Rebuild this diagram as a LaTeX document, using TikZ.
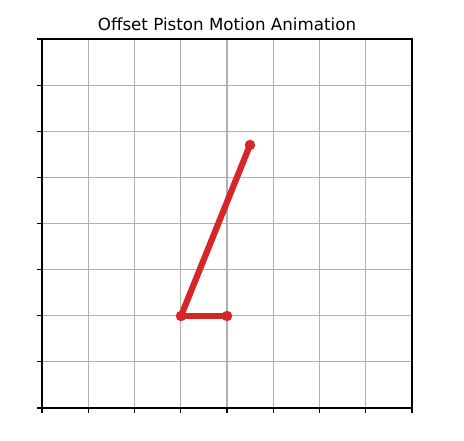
\documentclass[tikz,border=0pt]{standalone}
\usepackage{fontspec}
\setmainfont{DejaVu Sans}
\definecolor{tabred}{HTML}{D62728}
\definecolor{gridgray}{HTML}{B0B0B0}
\begin{document}
\begin{tikzpicture}[x=1pt,y=1pt,
  gridline/.style={draw=gridgray,line width=1.1pt},
  spine/.style={draw=black,line width=1.1pt},
  tickmark/.style={draw=black,line width=1.1pt},
  link/.style={draw=tabred,line width=6.2pt,line cap=round},
  joint/.style={circle,fill=tabred,inner sep=0pt,minimum size=10.5pt}]
\useasboundingbox (0,0) rectangle (464,440);
% grid
\foreach \i in {1,...,7} {
  \draw[gridline] ({42+\i*46.25},32) -- ({42+\i*46.25},401);
  \draw[gridline] (42,{32+\i*46.125}) -- (412,{32+\i*46.125});
}
% ticks
\foreach \i in {0,...,8} {
  \draw[tickmark] ({42+\i*46.25},32) -- ({42+\i*46.25},27.1);
  \draw[tickmark] (42,{32+\i*46.125}) -- (37.1,{32+\i*46.125});
}
% spines
\draw[spine] (42,32) rectangle (412,401);
% title
\node (title) at (227,416) {\fontsize{16.7}{20}\selectfont Offset Piston Motion Animation};
% mechanism
\node[joint] (crank) at (181,124) {};
\node[joint] (pin) at (227,124) {};
\node[joint] (piston) at (250,295) {};
\draw[link] (crank.center) -- (pin.center);
\draw[link] (crank.center) -- (piston.center);
\end{tikzpicture}
\end{document}
